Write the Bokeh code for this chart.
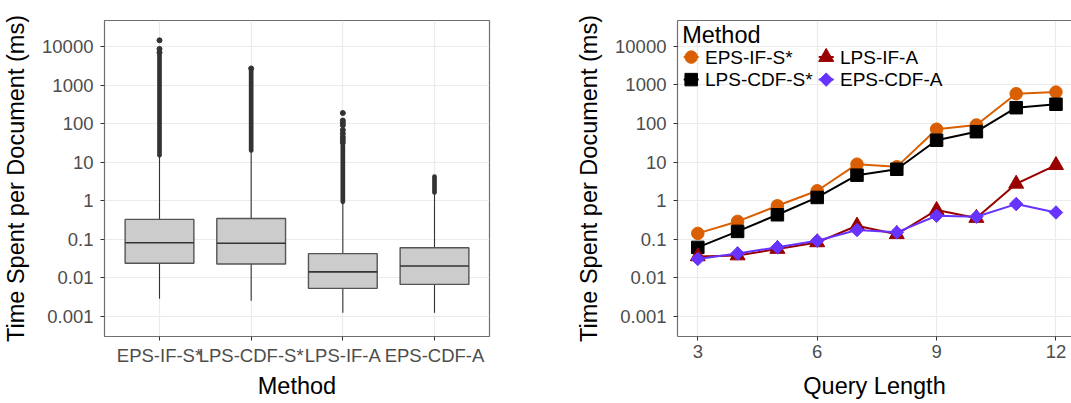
from bokeh.plotting import figure
from bokeh.layouts import row
from bokeh.models import (FactorRange, Range1d, FixedTicker, LinearAxis,
                          LinearScale)
from bokeh.core.properties import value
from bokeh.embed import file_html
from bokeh.resources import INLINE

FONT = "Liberation Sans"

# ---- per-document time, by method (ms) ----
METHODS = ["EPS-IF-S*", "LPS-CDF-S*", "LPS-IF-A", "EPS-CDF-A"]
WHISKER_LO = [0.00284, 0.00252, 0.00122, 0.00122]
Q1 = [0.0236, 0.0226, 0.00526, 0.00665]
MEDIAN = [0.0802, 0.0783, 0.0141, 0.0200]
Q3 = [0.325, 0.344, 0.0418, 0.0597]
WHISKER_HI = [14.4, 19.4, 0.91, 1.58]
# tightly packed outliers form a solid run; isolated ones sit above it
OUTLIER_RUN_LO = [15.0, 20.0, 0.93, 1.62]
OUTLIER_RUN_HI = [6000.0, 2400.0, 27.0, 4.2]
SPARSE_OUTLIER_METHOD = ["EPS-IF-S*", "EPS-IF-S*", "EPS-IF-S*", "LPS-CDF-S*",
                         "LPS-IF-A", "LPS-IF-A", "LPS-IF-A", "LPS-IF-A", "LPS-IF-A",
                         "LPS-IF-A", "LPS-IF-A", "LPS-IF-A", "LPS-IF-A"]
SPARSE_OUTLIER_VALUE = [7000, 8700, 14500, 2700,
                        32, 38, 45, 55, 68, 90, 105, 120, 188]

# ---- mean time by query length (ms) ----
QUERY_LENGTH = [3, 4, 5, 6, 7, 8, 9, 10, 11, 12]
EPS_IF_S = [0.142, 0.290, 0.736, 1.80, 8.8, 7.5, 70.6, 91, 586, 647]
LPS_CDF_S = [0.0617, 0.160, 0.431, 1.21, 4.57, 6.5, 36.7, 61, 255, 313]
LPS_IF_A = [0.036, 0.038, 0.056, 0.083, 0.224, 0.135, 0.57, 0.355, 2.73, 8.3]
EPS_CDF_A = [0.031, 0.043, 0.062, 0.092, 0.174, 0.151, 0.406, 0.383, 0.815, 0.494]

Y_TICKS = [0.001, 0.01, 0.1, 1, 10, 100, 1000, 10000]
Y_TICK_LABELS = ["0.001", "0.01", "0.1", "1", "10", "100", "1000", "10000"]
X_TICKS = [3, 6, 9, 12]

Y_TITLE = "Time Spent per Document (ms)"
GRID = "#ebebeb"
BORDER = "#6e6e6e"


def style_axes(p):
    for ax in p.xaxis + p.yaxis:
        ax.axis_label_text_font = FONT
        ax.axis_label_text_font_size = "23.5px"
        ax.axis_label_text_font_style = "normal"
        ax.axis_label_text_color = "#000000"
        ax.major_label_text_font = FONT
        ax.major_label_text_font_size = "18.5px"
        ax.major_label_text_color = "#4d4d4d"
        ax.major_tick_in = 0
        ax.major_tick_out = 4
        ax.major_tick_line_color = "#333333"
        ax.minor_tick_line_color = None
    for ax in p.yaxis:
        ax.ticker = FixedTicker(ticks=Y_TICKS)
        ax.major_label_overrides = dict(zip(Y_TICKS, Y_TICK_LABELS))
        ax.major_label_standoff = 7
        ax.axis_label_standoff = 10
    for ax in p.xaxis:
        ax.major_label_standoff = 4
        ax.axis_label_standoff = 4
    p.ygrid.ticker = FixedTicker(ticks=Y_TICKS)
    p.xgrid.grid_line_color = GRID
    p.ygrid.grid_line_color = GRID
    p.xgrid.grid_line_width = 1.2
    p.ygrid.grid_line_width = 1.2


# ---------------- box plot ----------------
left = figure(width=540, height=403,
              x_range=FactorRange(factors=METHODS, range_padding=0.05,
                                  range_padding_units="percent"),
              y_axis_type="log", y_range=Range1d(10 ** -3.53, 10 ** 4.677),
              output_backend="svg", toolbar_location=None,
              min_border_left=102, min_border_right=51,
              min_border_top=20, min_border_bottom=64)
left.outline_line_color = BORDER
left.outline_line_width = 1.2
left.xaxis.axis_label = "Method"
left.yaxis.axis_label = Y_TITLE
left.xaxis.axis_line_color = None
left.yaxis.axis_line_color = None
style_axes(left)

left.segment(x0=METHODS, y0=WHISKER_LO, x1=METHODS, y1=Q1,
             line_color="#333333", line_width=1.1)
left.segment(x0=METHODS, y0=Q3, x1=METHODS, y1=WHISKER_HI,
             line_color="#333333", line_width=1.1)
left.segment(x0=METHODS, y0=OUTLIER_RUN_LO, x1=METHODS, y1=OUTLIER_RUN_HI,
             line_color="#333333", line_width=4.7, line_cap="round")
left.scatter(x=SPARSE_OUTLIER_METHOD, y=SPARSE_OUTLIER_VALUE, size=5,
             color="#333333")
left.vbar(x=METHODS, bottom=Q1, top=Q3, width=0.75,
          fill_color="#cccccc", line_color="#555555", line_width=1.4)
left.rect(x=METHODS, y=MEDIAN, width=0.75, height=1.6, height_units="screen",
          fill_color="#333333", line_color=None)

# ---------------- line chart ----------------
FRAME_W, FRAME_H = 394, 317
right = figure(width=531, height=403,
               x_range=Range1d(2.49, 12.39),
               y_axis_type="log", y_range=Range1d(10 ** -3.517, 10 ** 4.664),
               output_backend="svg", toolbar_location=None,
               min_border_left=137, min_border_right=0,
               min_border_top=19, min_border_bottom=67)
right.outline_line_color = None
right.xaxis.axis_label = "Query Length"
right.yaxis.axis_label = Y_TITLE
right.xaxis.ticker = FixedTicker(ticks=X_TICKS)
right.xgrid.ticker = FixedTicker(ticks=X_TICKS)
for ax in right.xaxis + right.yaxis:
    ax.axis_line_color = BORDER
    ax.axis_line_width = 1.2
style_axes(right)
right.xaxis.axis_label_standoff = 12
top_edge = LinearAxis(ticker=FixedTicker(ticks=[]), axis_line_color=BORDER,
                      axis_line_width=1.2, major_tick_line_color=None,
                      minor_tick_line_color=None,
                      major_label_text_font_size="0px")
right.add_layout(top_edge, "above")

# name, values, colour, marker, size, rotation
series = [
    ("EPS-IF-S*", EPS_IF_S, "#d95f02", "circle", 12.5, 0.0),
    ("LPS-CDF-S*", LPS_CDF_S, "#000000", "square", 12.5, 0.0),
    ("LPS-IF-A", LPS_IF_A, "#990000", "triangle", 15, 0.0),
    ("EPS-CDF-A", EPS_CDF_A, "#6633ff", "square", 9.5, 0.785398),
]
for name, ys, color, marker, size, angle in series:
    right.line(QUERY_LENGTH, ys, line_color=color, line_width=2)
    right.scatter(QUERY_LENGTH, ys, marker=marker, size=size, angle=angle,
                  fill_color=color, line_color=color)

# key drawn in frame pixels (origin top-left), two columns of two entries
right.extra_x_ranges = {"key": Range1d(0, FRAME_W)}
right.extra_y_ranges = {"key": Range1d(FRAME_H, 0)}
right.extra_x_scales = {"key": LinearScale()}
right.extra_y_scales = {"key": LinearScale()}
KEY_LEFT, KEY_TOP = 13.7, 36.7
COL_STEP, ROW_STEP = 135.0, 22.6
LINE_HALF, TEXT_GAP = 7.5, 13.8
kw = dict(x_range_name="key", y_range_name="key")

right.text(x=[KEY_LEFT - 9], y=[KEY_TOP - 22.3], text=["Method"],
           text_font=value(FONT), text_font_size="23.5px",
           text_color="#000000", text_baseline="middle", **kw)
for i, (name, ys, color, marker, size, angle) in enumerate(series):
    cx = KEY_LEFT + COL_STEP * (i // 2)
    cy = KEY_TOP + ROW_STEP * (i % 2)
    right.segment(x0=[cx - LINE_HALF], y0=[cy], x1=[cx + LINE_HALF], y1=[cy],
                  line_color=color, line_width=2, **kw)
    right.scatter(x=[cx], y=[cy], marker=marker, size=size, angle=angle,
                  fill_color=color, line_color=color, **kw)
    right.text(x=[cx + TEXT_GAP], y=[cy], text=[name], text_font=value(FONT),
               text_font_size="19px", text_color="#000000",
               text_baseline="middle", **kw)

p = row(left, right)
open("out.html", "w").write(file_html(p, INLINE))
